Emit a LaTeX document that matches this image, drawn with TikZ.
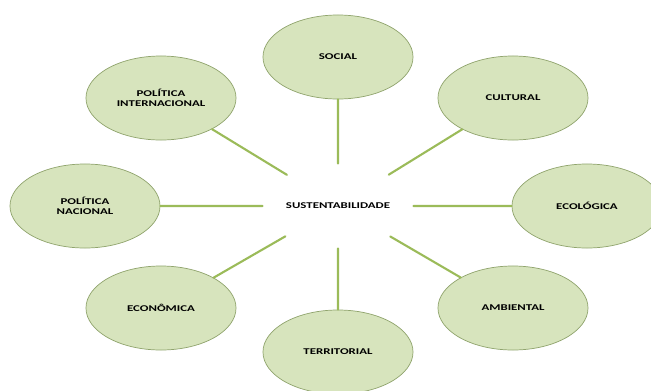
\documentclass[tikz,border=0pt]{standalone}
\usepackage{fontspec}
\setmainfont{Carlito}[FakeStretch=1.45]
\usetikzlibrary{shapes.geometric}
\definecolor{folha}{HTML}{D7E4BD}
\definecolor{borda}{HTML}{8FA36C}
\definecolor{verde}{HTML}{9BBB59}
\begin{document}
\begin{tikzpicture}[x=0.025cm,y=0.025cm,line join=round,line cap=round,font=\fontsize{6.3}{7.5}\selectfont\bfseries,
	bola/.style={ellipse,draw=borda,fill=folha,line width=.5pt,minimum width=3.75cm,minimum height=2.1cm,inner sep=0pt,align=center},
	ramo/.style={draw=verde,line width=1.5pt}]
	\useasboundingbox (-338,-184) rectangle (313,206);
	\node[bola,draw=none,fill=none] (sust) at (0,0) {SUSTENTABILIDADE};
	\node[bola] (soc)  at (0,149)     {SOCIAL};
	\node[bola] (cult) at (175,108)   {CULTURAL};
	\node[bola] (ecol) at (249,0)     {ECOLÓGICA};
	\node[bola] (amb)  at (175,-102)  {AMBIENTAL};
	\node[bola] (terr) at (0,-146)    {TERRITORIAL};
	\node[bola] (econ) at (-177,-102) {ECONÔMICA};
	\node[bola] (pnac) at (-253,0)    {POLÍTICA\\NACIONAL};
	\node[bola] (pint) at (-177,108)  {POLÍTICA\\INTERNACIONAL};
	\draw[ramo] (sust)--(soc) (sust)--(cult) (sust)--(ecol) (sust)--(amb)
	(sust)--(terr) (sust)--(econ) (sust)--(pnac) (sust)--(pint);
\end{tikzpicture}
\end{document}
